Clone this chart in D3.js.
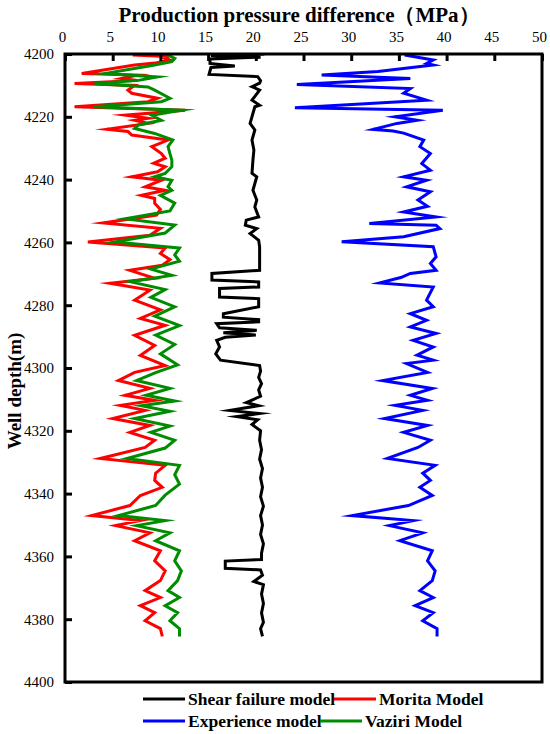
<!DOCTYPE html>
<html>
<head>
<meta charset="utf-8">
<script src="https://cdn.jsdelivr.net/npm/d3@7"></script>
<style>
  html, body { margin: 0; padding: 0; background: #fff; }
  svg { display: block; }
</style>
</head>
<body>
<div id="chart"></div>
<script>
// ---------- DATA ----------
const xTicks = [0, 5, 10, 15, 20, 25, 30, 35, 40, 45, 50];
const yTicks = [4200, 4220, 4240, 4260, 4280, 4300, 4320, 4340, 4360, 4380, 4400];
const seriesNames = ["Shear failure model", "Morita Model", "Experience model", "Vaziri Model"];
const seriesColors = ["#000000", "#ff0000", "#0000ff", "#008c00"];

// [depth (m), pressure difference (MPa)]
const shearFailure = [
  [4200,20.9],[4200.5,15.3],[4201,20.5],[4201.6,15.2],[4203,15.2],[4203.8,17.8],[4204.3,15.3],[4206.5,15.1],[4207.2,20.2],[4208.5,20.5],
  [4209.3,20.4],[4210.4,19.6],[4211.5,20.4],[4214.7,19.6],[4216.3,20.4],[4216.8,19.9],[4222.1,19.4],[4224.2,19.9],[4227.4,19.6],[4230.6,19.8],
  [4233.8,19.7],[4238.0,19.6],[4239.1,20.1],[4243.4,19.7],[4246.5,20.1],[4248.7,19.9],[4251.9,20.3],[4252.9,19.0],[4254.5,18.9],[4255.6,20.1],
  [4257.2,19.4],[4259.3,20.3],[4261.4,20.4],[4268.9,20.4],[4269.9,15.4],[4272.0,15.4],[4272.6,20.3],[4274.2,20.3],[4274.7,16.2],[4277.4,16.2],
  [4277.9,20.3],[4280.5,20.3],[4282.7,16.6],[4283.8,16.6],[4284.6,20.3],[4285.3,20.3],[4285.9,15.9],[4287.2,16.2],[4288,20.1],[4288.8,16.6],
  [4289.5,20.0],[4290.2,16.8],[4291.2,15.9],[4293.3,16.2],[4295.5,15.8],[4297.5,16.3],[4299.2,20.4],[4301,20.5],[4303,20.3],[4305,20.6],
  [4307,20.3],[4309,20.5],[4311,19.0],[4312,20.3],[4313.5,17.3],[4314.5,20.4],[4315.5,18.0],[4316.5,20.2],[4318,19.6],[4320,20.5],
  [4323,20.4],[4326,20.6],[4329,20.4],[4332,20.7],[4335,20.5],[4338,20.7],[4341,20.5],[4344,20.8],[4347,20.5],[4350,20.7],
  [4353,20.5],[4356,20.8],[4359,20.6],[4361,20.6],[4361.5,16.8],[4363.8,16.8],[4364.3,20.5],[4366,20.7],[4368,19.8],[4369,20.8],
  [4372,20.6],[4375,20.8],[4378,20.6],[4381,20.8],[4383,20.5],[4385.5,20.7]
];

const morita = [
  [4200.3,7.1],[4200.8,10.8],[4201.4,10.5],[4201.9,11.0],[4202.9,9.4],[4203.5,7.3],[4206.2,1.75],[4206.7,7.6],[4207.8,5.9],[4208.4,7.6],
  [4209.4,1.0],[4210.0,7.3],[4211.5,6.6],[4212.5,7.0],[4214.1,9.7],[4215.2,8.7],[4216.8,1.0],[4217.9,12.6],[4219.5,6.3],[4220.5,8.7],
  [4221.1,7.3],[4222.1,8.7],[4224.0,4.4],[4224.7,6.6],[4225.8,7.0],[4227.4,10.8],[4229.5,9.1],[4231.7,10.1],[4233.2,10.5],[4234.8,9.3],
  [4235.9,10.5],[4237.5,9.7],[4239.1,7.0],[4240.2,10.1],[4242.3,8.4],[4243.4,10.5],[4245.0,8.0],[4246.0,9.4],[4247.5,9.4],[4249.5,10.0],
  [4251.3,9.6],[4253.8,4.0],[4255.5,10.0],[4257.7,8.9],[4259.9,2.4],[4261.8,10.5],[4263.5,10.0],[4265.5,11.0],[4267.3,10.2],[4268.9,6.8],
  [4271.4,9.4],[4273,4.7],[4275.2,8.9],[4278.4,7.3],[4281.5,10.0],[4284.2,7.9],[4286.4,10.5],[4289.6,7.3],[4292.8,9.4],[4296,7.9],
  [4299.2,10.5],[4301.4,7.3],[4304,5.6],[4306.5,8.9],[4308.7,6.3],[4310.3,9.4],[4311.9,5.8],[4313.5,8.4],[4316.1,5.0],[4318.3,8.9],
  [4320.5,6.8],[4323,9.4],[4325.3,8.4],[4328.8,3.7],[4331,10.5],[4333.5,9.5],[4335.8,9.4],[4338,10.2],[4340.6,7.9],[4343.8,6.8],
  [4347,2.8],[4348.6,7.9],[4350.2,5.3],[4352.5,8.9],[4355,7.3],[4358.2,10.0],[4361.4,9.4],[4364.6,10.5],[4367.7,10.0],[4370.9,8.4],
  [4373.1,10.0],[4375.7,7.9],[4377.9,9.4],[4380.5,8.4],[4383,10.0],[4385.5,10.2]
];

const experience = [
  [4200.3,35.6],[4201.9,38.6],[4203.0,37.9],[4203.5,38.6],[4205.6,32.8],[4206.7,26.9],[4207.8,36.2],[4209.7,24.3],[4211.0,36.2],[4212.5,35.5],
  [4214.7,37.9],[4217.1,24.1],[4217.9,39.6],[4220,34.6],[4221.1,36.9],[4222.1,34.8],[4224.0,32.3],[4224.5,34.4],[4225.2,35.5],[4227.4,37.6],
  [4229.5,37.2],[4231.7,38.3],[4234.9,37.4],[4237.0,38.3],[4239.1,35.5],[4240.2,37.9],[4242.3,35.8],[4243.9,38.3],[4246.5,37.0],[4248.5,38.0],
  [4250.3,35.5],[4251.9,38.9],[4254.0,31.9],[4254.5,38.9],[4255.6,39.3],[4258.2,35.5],[4259.8,29.0],[4261.4,38.6],[4264.6,38.9],[4266.7,38.3],
  [4268.9,38.9],[4269.9,36.2],[4271.2,35.2],[4272.9,33.0],[4274.2,38.6],[4278.4,37.9],[4280.5,38.6],[4282.7,36.2],[4284.8,37.9],[4286.9,36.2],
  [4289.0,38.9],[4291.2,36.5],[4293.3,38.6],[4295.9,36.9],[4297.5,38.6],[4298.6,35.8],[4301.4,38.0],[4304,33.3],[4306.5,38.5],[4308.7,36.2],
  [4310.3,38.0],[4311.9,34.6],[4313.5,37.5],[4316.1,33.5],[4318.3,38.0],[4320.5,35.5],[4323,38.3],[4325.3,37.0],[4328.8,33.8],[4331,38.8],
  [4333.5,37.5],[4335.8,38.3],[4338,37.2],[4340.6,38.5],[4343.8,36.0],[4347,30.1],[4348.6,36.5],[4350.2,34.0],[4352.5,37.5],[4355,35.1],
  [4358.2,38.5],[4361.4,38.0],[4364.6,38.8],[4367.7,38.5],[4370.9,37.2],[4373.1,38.6],[4375.7,36.7],[4377.9,38.6],[4380.5,37.5],[4383,39.0],
  [4385.5,39.0]
];

const vaziri = [
  [4200.3,10.8],[4201.4,11.5],[4202.4,11.2],[4203.5,9.4],[4206.2,4.2],[4207.3,9.7],[4208.4,7.7],[4209.4,3.1],[4210.5,8.7],[4211.5,9.4],
  [4214.1,11.0],[4215.2,10.1],[4216.8,3.0],[4217.9,12.2],[4219.5,9.1],[4221.1,10.1],[4222.6,7.7],[4223.7,7.3],[4225.3,9.4],[4227.4,11.3],
  [4229.5,10.8],[4231.7,11.0],[4233.8,11.2],[4235.9,11.2],[4238,10.5],[4239.1,9.4],[4240.2,11.2],[4242.3,10.8],[4243.4,11.2],[4245,10.0],
  [4247.5,11.5],[4250,11.0],[4252.5,6.3],[4254.5,11.5],[4257,10.5],[4259.9,5.2],[4261.8,12.0],[4264,11.5],[4266,12.0],[4268.5,9.0],
  [4270.5,11.2],[4272.5,6.8],[4275,10.5],[4277.5,9.0],[4280.5,11.5],[4283.5,9.4],[4286.5,12.0],[4289.5,9.5],[4292.5,11.5],[4295.5,10.0],
  [4299,11.8],[4301.5,9.5],[4304,7.5],[4306.5,11.0],[4308.7,8.5],[4310.5,11.5],[4312,8.0],[4313.8,11.0],[4316.1,7.3],[4318.5,11.0],
  [4320.5,9.0],[4323,11.5],[4325.5,10.5],[4328.8,6.5],[4331,12.0],[4334,11.5],[4337,12.0],[4340.5,10.5],[4343.8,9.5],[4347,5.6],
  [4348.6,10.5],[4350.2,7.5],[4352.5,11.0],[4355,9.5],[4358.2,12.0],[4361.4,11.5],[4364.6,12.2],[4367.7,11.8],[4370.9,10.8],[4373.1,12.0],
  [4375.7,10.5],[4377.9,11.8],[4380.5,11.0],[4383,12.0],[4385.5,12.0]
];

// ---------- CHART ----------
const W = 550, H = 734;
const margin = { left: 65, right: 8, top: 54, bottom: 52 };
const svg = d3.select("#chart").append("svg").attr("width", W).attr("height", H);

const x = d3.scaleLinear().domain([0, 50]).range([margin.left, W - margin.right]);
const y = d3.scaleLinear().domain([4200, 4400]).range([margin.top, H - margin.bottom]);

const serif = "'Liberation Serif', 'DejaVu Serif', serif";

const line = d3.line().x(d => x(d[1])).y(d => y(d[0]));

const drawOrder = [
  { data: shearFailure, color: seriesColors[0] },
  { data: experience, color: seriesColors[2] },
  { data: morita, color: seriesColors[1] },
  { data: vaziri, color: seriesColors[3] }
];
const clipId = "plotclip";
svg.append("clipPath").attr("id", clipId).append("rect")
  .attr("x", x(0)).attr("y", y(4200)).attr("width", x(50) - x(0)).attr("height", y(4400) - y(4200));
const gLines = svg.append("g").attr("clip-path", `url(#${clipId})`);
drawOrder.forEach(s => {
  gLines.append("path").datum(s.data)
    .attr("d", line)
    .attr("fill", "none")
    .attr("stroke", s.color)
    .attr("stroke-width", 3)
    .attr("stroke-linejoin", "miter")
    .attr("stroke-miterlimit", 10);
});

// Top axis (ticks inward)
const xAxis = d3.axisTop(x).tickValues(xTicks).tickSize(-7).tickPadding(12).tickFormat(d3.format("d"));
const gx = svg.append("g").attr("transform", `translate(0,${y(4200)})`).call(xAxis);
gx.select(".domain").remove();
gx.selectAll(".tick line").attr("stroke", "#000").attr("stroke-width", 3);
gx.selectAll(".tick text").attr("font-family", serif).attr("font-size", 15).attr("fill", "#000").attr("dx", -3);

// Left axis (ticks inward)
const yAxis = d3.axisLeft(y).tickValues(yTicks).tickSize(-7).tickPadding(11).tickFormat(d3.format("d"));
const gy = svg.append("g").attr("transform", `translate(${x(0)},0)`).call(yAxis);
gy.select(".domain").remove();
gy.selectAll(".tick line").attr("stroke", "#000").attr("stroke-width", 3);
gy.selectAll(".tick text").attr("font-family", serif).attr("font-size", 15).attr("fill", "#000");

// Frame
svg.append("rect")
  .attr("x", x(0)).attr("y", y(4200))
  .attr("width", x(50) - x(0)).attr("height", y(4400) - y(4200))
  .attr("fill", "none").attr("stroke", "#000").attr("stroke-width", 3);

// Title
svg.append("text")
  .attr("x", 299).attr("y", 22)
  .attr("text-anchor", "middle")
  .attr("font-family", serif).attr("font-weight", "bold").attr("font-size", 21)
  .text("Production pressure difference（MPa）");

// Y label
svg.append("text")
  .attr("transform", `translate(21,391) rotate(-90)`)
  .attr("text-anchor", "middle")
  .attr("font-family", serif).attr("font-weight", "bold").attr("font-size", 19)
  .text("Well depth(m)");

// Legend
const legendItems = [
  { name: seriesNames[0], color: seriesColors[0], lx: 143, ly: 699 },
  { name: seriesNames[1], color: seriesColors[1], lx: 334, ly: 699 },
  { name: seriesNames[2], color: seriesColors[2], lx: 143, ly: 721 },
  { name: seriesNames[3], color: seriesColors[3], lx: 320, ly: 721 }
];
const gl = svg.append("g");
legendItems.forEach(it => {
  gl.append("line").attr("x1", it.lx).attr("x2", it.lx + 42).attr("y1", it.ly).attr("y2", it.ly)
    .attr("stroke", it.color).attr("stroke-width", 3);
  gl.append("text").attr("x", it.lx + 45).attr("y", it.ly + 5.5)
    .attr("font-family", serif).attr("font-weight", "bold").attr("font-size", 17.5)
    .text(it.name);
});
</script>
</body>
</html>
